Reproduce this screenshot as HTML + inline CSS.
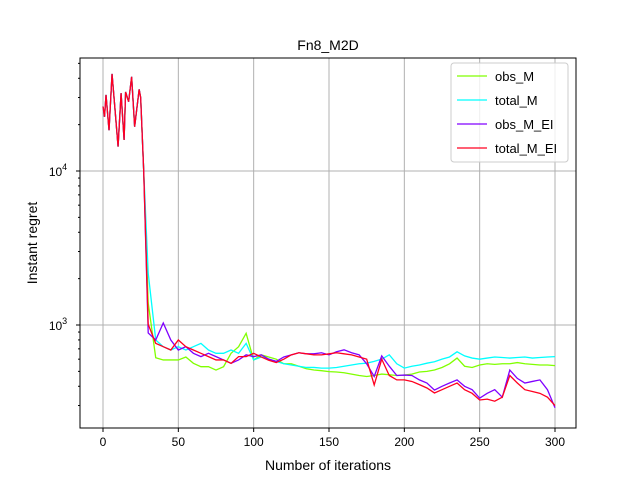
<!DOCTYPE html>
<html><head><meta charset="utf-8"><style>
body{margin:0;background:#fff;font-family:"Liberation Sans","DejaVu Sans",sans-serif}
svg text{font-family:"Liberation Sans","DejaVu Sans",sans-serif;fill:#000}
</style></head><body>
<svg id="chart" width="640" height="480" xmlns="http://www.w3.org/2000/svg">
<rect width="640" height="480" fill="#fff"/>
<text x="328" y="50" font-size="14" text-anchor="middle">Fn8_M2D</text>
<text x="328" y="470" font-size="14" text-anchor="middle">Number of iterations</text>
<text x="37" y="243" font-size="14" text-anchor="middle" transform="rotate(-90 37 243)">Instant regret</text>
<g id="grid"></g><g id="series"></g><g id="axes"></g><g id="legend"></g>
</svg>
<script>
const early = [[0,26200],[1,22500],[2,31200],[4,18400],[6,42700],[8,24900],[10,14400],[12,32000],[14,15900],[15,32600],[17,28200],[19,40900],[21,19400],[24,33900],[25,30000],[27,10100]];
const iters = [30,35,40,45,50,55,60,65,70,75,80,85,90,95,100,105,110,115,120,125,130,135,140,145,150,155,160,165,170,175,180,185,190,195,200,205,210,215,220,225,230,235,240,245,250,255,260,265,270,275,280,285,290,295,300];
const obsM = [1390,613,593,593,593,620,564,536,536,510,536,655,723,883,593,640,620,600,560,560,540,520,510,505,498,495,490,480,470,463,470,480,475,470,473,480,495,500,510,530,560,610,540,530,550,560,555,560,560,570,560,555,550,550,545];
const totalM = [2170,799,723,688,723,688,723,760,688,655,655,688,655,760,593,620,600,580,560,550,540,530,530,525,525,530,540,550,560,565,580,600,640,560,525,540,550,565,577,600,620,670,630,610,600,610,620,615,610,615,620,610,615,620,623];
const obsMEI = [887,799,1030,799,688,723,655,623,655,623,593,564,593,640,623,640,600,580,620,640,660,650,650,660,640,670,690,660,640,560,463,630,540,470,473,470,440,420,378,400,420,440,400,380,335,360,380,340,510,450,420,430,440,380,290];
const totalMEI = [1010,760,723,688,799,723,688,655,623,593,593,564,623,623,655,620,590,570,600,640,660,650,640,640,650,660,650,640,620,600,408,600,470,440,440,430,410,390,362,380,400,420,380,360,326,330,320,340,470,420,380,370,360,340,300];
const seriesNames = ["obs_M","total_M","obs_M_EI","total_M_EI"];
const seriesColors = ["#80ff00","#00ffff","#8000ff","#ff0020"];
const seriesData = [obsM,totalM,obsMEI,totalMEI];
const xTicks = [0,50,100,150,200,250,300];

const L=80,R=576,T=58,B=428;
const xs = v => 103 + v*(555-103)/300;
const ys = v => 325 - (Math.log10(v)-3)*154;
const NS="http://www.w3.org/2000/svg";
function mk(tag,attrs,parent){const e=document.createElementNS(NS,tag);for(const k in attrs)e.setAttribute(k,attrs[k]);parent.appendChild(e);return e;}
const grid=document.getElementById('grid'),axes=document.getElementById('axes'),ser=document.getElementById('series'),leg=document.getElementById('legend');
xTicks.forEach(t=>{
  const g=mk('line',{x1:xs(t),x2:xs(t),y1:T,y2:B,stroke:'#b0b0b0','stroke-width':1},grid);
  
  
  mk('line',{x1:xs(t),x2:xs(t),y1:B,y2:B+4,stroke:'#000'},axes);
  const tx=mk('text',{x:xs(t),y:B+18,'font-size':12,'text-anchor':'middle'},axes);
  tx.textContent=t;
  
  
});
[1000,10000].forEach((t,i)=>{
  const g=mk('line',{x1:L,x2:R,y1:ys(t),y2:ys(t),stroke:'#b0b0b0','stroke-width':1},grid);
  
  
  mk('line',{x1:L-4,x2:L,y1:ys(t),y2:ys(t),stroke:'#000'},axes);
  const tx=mk('text',{x:L-22,y:ys(t)+5,'font-size':12,'text-anchor':'middle'},axes);
  tx.innerHTML='10<tspan dy="-6" font-size="9">'+(i+3)+'</tspan>';
  
  
});
for(let d=2;d<=5;d++)for(let m=1;m<10;m++){const v=m*Math.pow(10,d);const y=ys(v);if(m>1&&y>T&&y<B)mk('line',{x1:L-2,x2:L,y1:y,y2:y,stroke:'#000'},axes);}
const fr=mk('rect',{x:L,y:T,width:R-L,height:B-T,fill:'none',stroke:'#000','stroke-width':1},axes);


seriesData.forEach((d,k)=>{
  const pts=early.map(p=>xs(p[0])+','+ys(p[1])).concat(iters.map((t,i)=>xs(t)+','+ys(d[i])));
  const pl=mk('polyline',{points:pts.join(' '),fill:'none',stroke:seriesColors[k],'stroke-width':1.3},ser);
  
  
});
const lb=mk('rect',{x:451,y:63,width:117,height:99,rx:3,fill:'#fff','fill-opacity':0.8,stroke:'#ccc'},leg);


seriesNames.forEach((n,k)=>{
  const y=76+k*24;
  mk('line',{x1:457,x2:487,y1:y,y2:y,stroke:seriesColors[k],'stroke-width':1.3},leg);
  const tx=mk('text',{x:495,y:y+5,'font-size':13},leg);
  tx.textContent=n;
  
  
});
</script>
</body></html>
